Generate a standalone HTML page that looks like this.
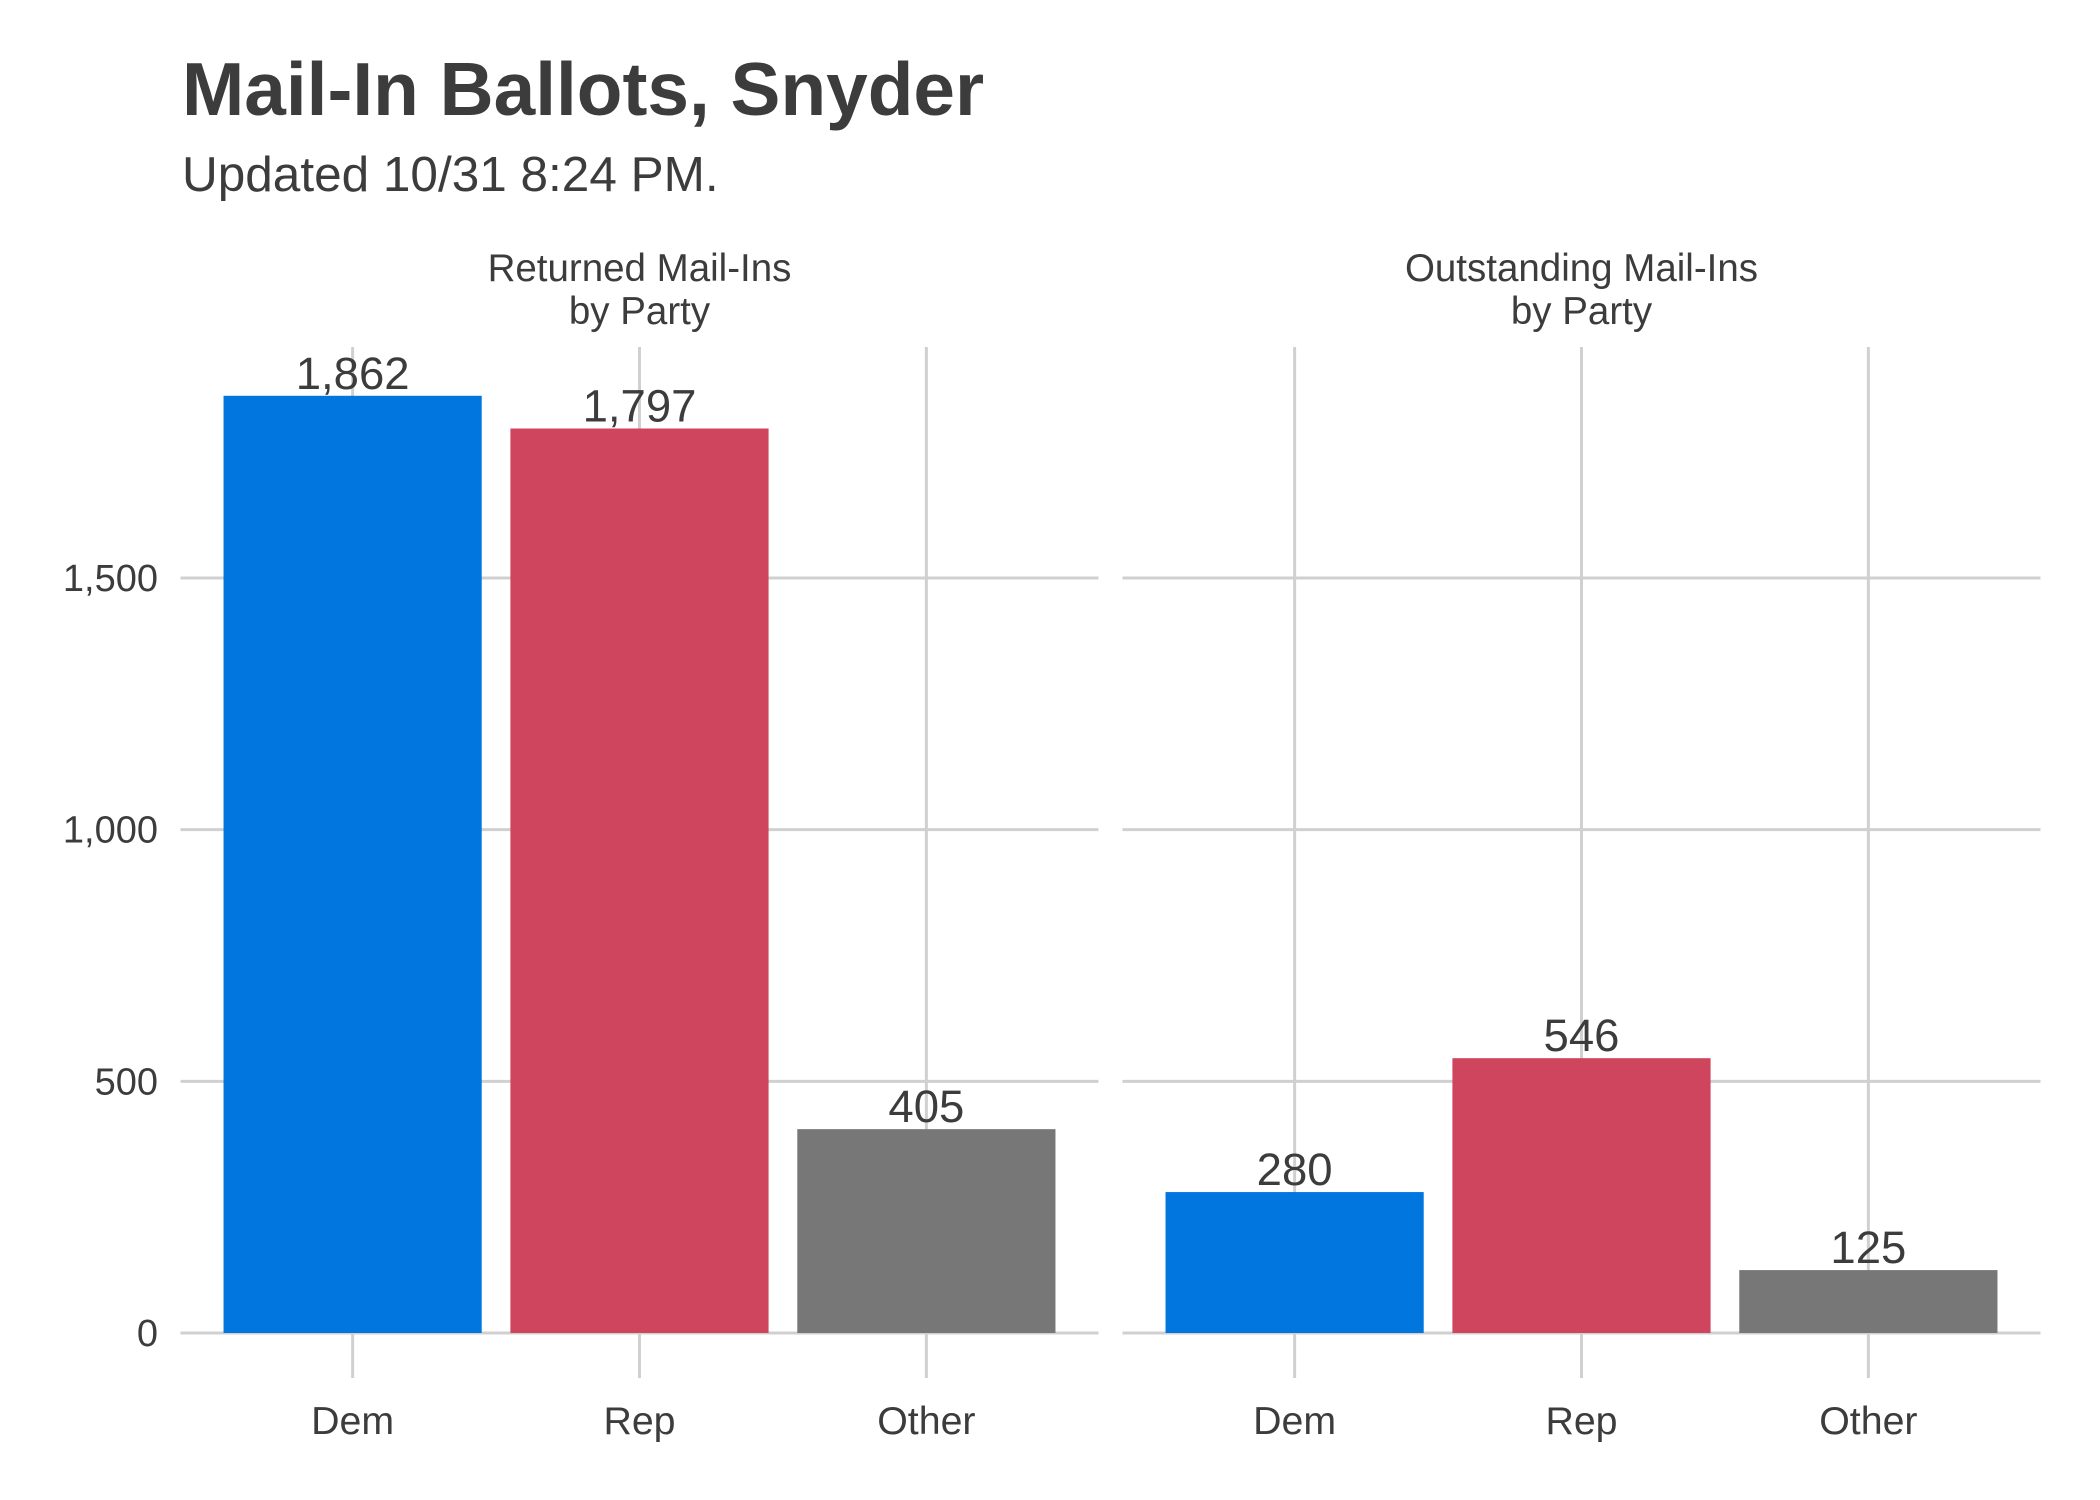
<!DOCTYPE html>
<html><head><meta charset="utf-8"><style>
html,body{margin:0;padding:0;background:#fff;}
svg{display:block;font-family:"Liberation Sans",Arial,sans-serif;}
</style></head><body>
<svg id="chart" width="2100" height="1500" viewBox="0 0 2100 1500">
<text x="182" y="115" font-size="74.8" font-weight="bold" fill="#3c3c3c">Mail-In Ballots, Snyder</text>
<text x="182" y="191" font-size="49.5" fill="#3c3c3c">Updated 10/31 8:24 PM.</text>
<g id="plot"></g>
</svg>
<script>
const panels = ["Returned Mail-Ins|by Party", "Outstanding Mail-Ins|by Party"];
const categories = ["Dem", "Rep", "Other"];
const returnedValues = [1862, 1797, 405];
const outstandingValues = [280, 546, 125];
const yTicks = [0, 500, 1000, 1500];
const yTickLabels = ["0", "500", "1,000", "1,500"];
const colors = ["#0176df", "#d0455e", "#777777"];

const NS = "http://www.w3.org/2000/svg";
const g = document.getElementById("plot");
const y0 = 1333, yTop = 347, pxPer = (1333 - 578) / 1500;
const yScale = v => y0 - v * pxPer;
const panelX = [180.5, 1122.5], panelW = 918;
const step = panelW / 3.2;
const xScale = (p, i) => panelX[p] + (i + 1 - 0.4) * step;
function el(tag, attrs, text) {
  const e = document.createElementNS(NS, tag);
  for (const k in attrs) e.setAttribute(k, attrs[k]);
  if (text !== undefined) e.textContent = text;
  g.appendChild(e);
  return e;
}
const series = [returnedValues, outstandingValues];
panels.forEach((title, p) => {
  const x0 = panelX[p];
  yTicks.forEach((t, k) => {
    const l = el("line", {x1: x0, x2: x0 + panelW, y1: yScale(t), y2: yScale(t), stroke: "#d0d0d0", "stroke-width": 3});
    
    
    if (p === 0) {
      const tl = el("text", {x: 158, y: yScale(t) + 13, "font-size": 38, fill: "#3c3c3c", "text-anchor": "end"}, yTickLabels[k]);
      
      
    }
  });
  categories.forEach((c, i) => {
    const cx = xScale(p, i);
    const l = el("line", {x1: cx, x2: cx, y1: yTop, y2: 1378, stroke: "#d0d0d0", "stroke-width": 3});
    
    
  });
  const lines = title.split("|");
  lines.forEach((ln, j) => {
    const st = el("text", {x: x0 + panelW / 2, y: 281 + j * 43, "font-size": 38.5, fill: "#3c3c3c", "text-anchor": "middle"}, ln);
    
    
  });
  categories.forEach((c, i) => {
    const cx = xScale(p, i), v = series[p][i];
    const bw = step * 0.9;
    const r = el("rect", {x: cx - bw / 2, y: yScale(v), width: bw, height: y0 - yScale(v), fill: colors[i]});
    
    
    const vl = el("text", {x: cx, y: yScale(v) - 7, "font-size": 45.5, fill: "#3c3c3c", "text-anchor": "middle"}, v.toLocaleString("en-US"));
    
    
    const xl = el("text", {x: cx, y: 1434, "font-size": 39.3, fill: "#3c3c3c", "text-anchor": "middle"}, c);
    
    
  });
});
</script>
</body></html>
